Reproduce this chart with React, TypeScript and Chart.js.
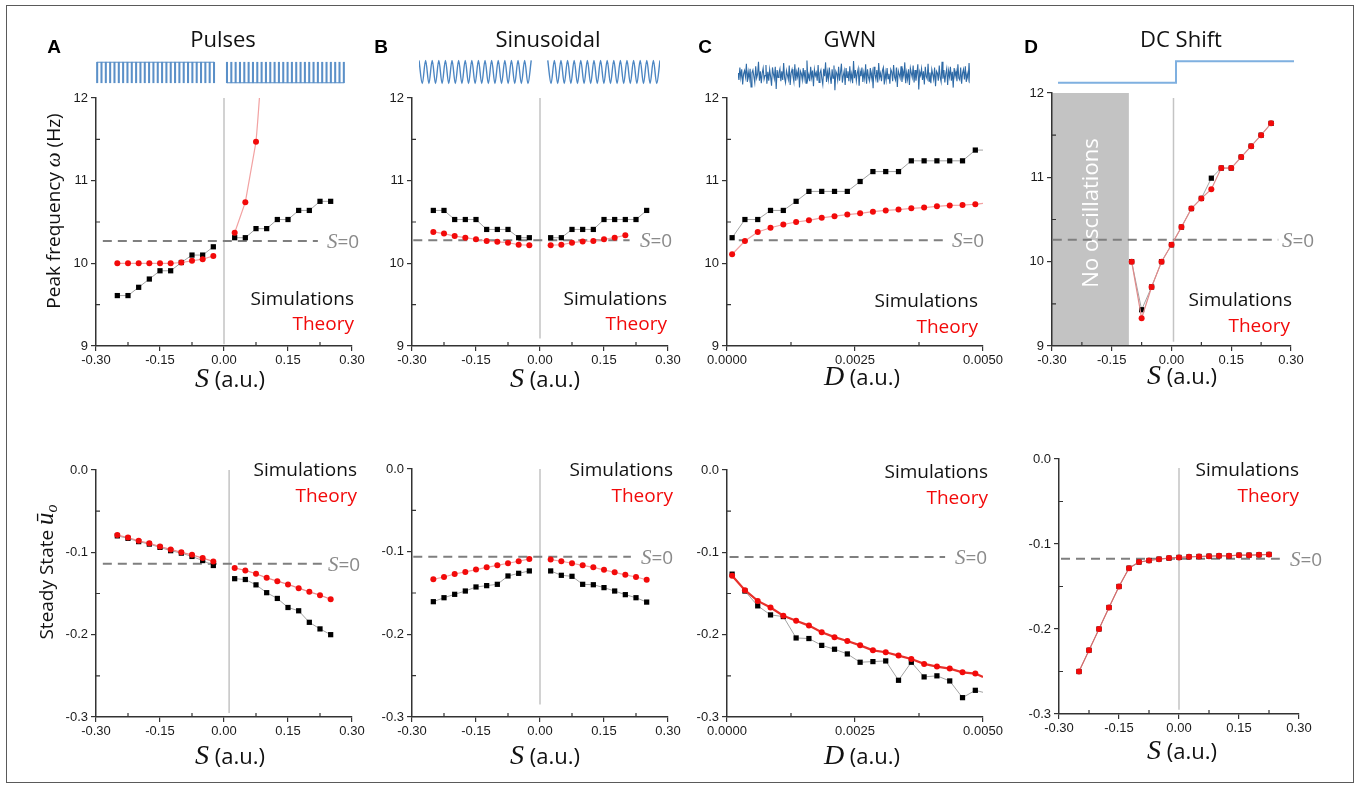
import React, { useEffect, useRef } from 'react';
import { Chart, registerables } from 'chart.js';

Chart.register(...registerables);

// ================= DATA =================
// x positions
const sNeg = [-0.25, -0.225, -0.2, -0.175, -0.15, -0.125, -0.1, -0.075, -0.05, -0.025];
const sPos = [0.025, 0.05, 0.075, 0.1, 0.125, 0.15, 0.175, 0.2, 0.225, 0.25];
const sPosShort = [0.025, 0.05, 0.075, 0.1, 0.125, 0.15, 0.175, 0.2];
const dLevels = [0.0001, 0.00035, 0.0006, 0.00085, 0.0011, 0.00135, 0.0016, 0.00185, 0.0021, 0.00235, 0.0026, 0.00285, 0.0031, 0.00335, 0.0036, 0.00385, 0.0041, 0.00435, 0.0046, 0.00485];
const dTailX = [0.00485, 0.005];
const sDcTop = [-0.1, -0.075, -0.05, -0.025, 0, 0.025, 0.05, 0.075, 0.1, 0.125, 0.15, 0.175, 0.2, 0.225, 0.25];
const sDcBottom = [-0.25, -0.225, -0.2, -0.175, -0.15, -0.125, -0.1, -0.075, -0.05, -0.025, 0, 0.025, 0.05, 0.075, 0.1, 0.125, 0.15, 0.175, 0.2, 0.225];

// tick values
const sTicks = [-0.3, -0.15, 0, 0.15, 0.3];
const sMinor = [-0.225, -0.075, 0.075, 0.225];
const dTicks = [0, 0.0025, 0.005];
const dMinor = [0.00125, 0.00375];
const freqTicks = [9, 10, 11, 12];
const freqMinor = [9.5, 10.5, 11.5];
const stateTicks = [-0.3, -0.2, -0.1, 0];
const stateMinor = [-0.25, -0.15, -0.05];

// S = 0 reference levels (A, B, C, D) and dashed extents
const s0Freq = [10.27, 10.28, 10.28, 10.26];
const s0State = [-0.114, -0.1063, -0.1058, -0.1174];
const dashSpanFreq = [[-0.284, 0.22], [-0.297, 0.21], [0.00023, 0.00426], [-0.298, 0.268]];
const dashSpanState = [[-0.284, 0.232], [-0.297, 0.213], [0.00005, 0.00426], [-0.295, 0.252]];

// A: Pulses
const pulsesFreqSimNeg = [9.61, 9.61, 9.71, 9.81, 9.91, 9.91, 10.01, 10.1, 10.1, 10.2];
const pulsesFreqSimPos = [10.31, 10.31, 10.42, 10.42, 10.53, 10.53, 10.64, 10.64, 10.75, 10.75];
const pulsesFreqThNeg = [10.0, 10.0, 10.0, 10.0, 10.0, 10.0, 10.01, 10.03, 10.05, 10.09];
const pulsesFreqThPosX = [0.025, 0.05, 0.075];
const pulsesFreqThPos = [10.37, 10.74, 11.47];
const pulsesFreqThTailX = [0.075, 0.079, 0.083, 0.087];
const pulsesFreqThTail = [11.47, 11.72, 12.0, 12.3];
const pulsesStateThNeg = [-0.079, -0.082, -0.086, -0.089, -0.093, -0.0965, -0.1, -0.103, -0.107, -0.111];
const pulsesStateSimNeg = [-0.08, -0.083, -0.087, -0.09, -0.094, -0.098, -0.101, -0.105, -0.11, -0.116];
const pulsesStateThPos = [-0.119, -0.122, -0.126, -0.131, -0.135, -0.139, -0.1435, -0.148, -0.152, -0.157];
const pulsesStateSimPos = [-0.132, -0.133, -0.1395, -0.149, -0.156, -0.167, -0.171, -0.185, -0.193, -0.2];

// B: Sinusoidal
const sineFreqSimNeg = [10.64, 10.64, 10.53, 10.53, 10.53, 10.41, 10.41, 10.41, 10.31, 10.31];
const sineFreqSimPos = [10.31, 10.31, 10.41, 10.41, 10.41, 10.53, 10.53, 10.53, 10.53, 10.64];
const sineFreqThNeg = [10.38, 10.36, 10.33, 10.31, 10.29, 10.27, 10.26, 10.25, 10.225, 10.22];
const sineFreqThPos = [10.22, 10.225, 10.25, 10.265, 10.27, 10.29, 10.31, 10.34];
const sineStateThNeg = [-0.1334, -0.1306, -0.127, -0.1245, -0.1217, -0.119, -0.1165, -0.114, -0.1116, -0.1088];
const sineStateThPos = [-0.1096, -0.1116, -0.114, -0.1165, -0.119, -0.122, -0.125, -0.128, -0.1306, -0.134];
const sineStateSimNeg = [-0.1605, -0.1557, -0.1516, -0.1476, -0.1427, -0.1411, -0.1395, -0.1294, -0.1262, -0.1233];
const sineStateSimPos = [-0.1233, -0.1286, -0.1298, -0.1395, -0.14, -0.1435, -0.1476, -0.152, -0.1557, -0.161];

// C: GWN
const gwnFreqSim = [10.31, 10.53, 10.53, 10.64, 10.64, 10.75, 10.87, 10.87, 10.87, 10.87, 10.99, 11.11, 11.11, 11.11, 11.24, 11.24, 11.24, 11.24, 11.24, 11.37];
const gwnFreqTh = [10.11, 10.27, 10.38, 10.43, 10.47, 10.5, 10.52, 10.55, 10.57, 10.59, 10.605, 10.625, 10.64, 10.65, 10.665, 10.675, 10.69, 10.7, 10.705, 10.715];
const gwnFreqSimTail = [11.37, 11.37];
const gwnFreqThTail = [10.715, 10.725];
const gwnStateSim = [-0.1265, -0.147, -0.165, -0.176, -0.178, -0.204, -0.2047, -0.213, -0.2177, -0.2234, -0.2335, -0.2327, -0.2319, -0.2554, -0.2335, -0.2513, -0.25, -0.2562, -0.2765, -0.2676];
const gwnStateTh = [-0.1285, -0.146, -0.159, -0.167, -0.177, -0.183, -0.189, -0.197, -0.203, -0.2076, -0.213, -0.219, -0.2214, -0.2254, -0.2295, -0.2355, -0.2388, -0.2412, -0.2457, -0.2473];
const gwnStateSimTail = [-0.2676, -0.27];
const gwnStateThTail = [-0.2473, -0.2514];

// D: DC shift
const dcFreqTh = [10.0, 9.33, 9.7, 10.0, 10.2, 10.41, 10.63, 10.75, 10.86, 11.11, 11.11, 11.24, 11.37, 11.5, 11.64];
const dcFreqSim = [10.0, 9.43, 9.7, 10.0, 10.2, 10.41, 10.63, 10.75, 10.99, 11.11, 11.11, 11.24, 11.37, 11.5, 11.64];
const dcStateTh = [-0.25, -0.225, -0.2, -0.1747, -0.15, -0.1284, -0.1213, -0.1194, -0.1178, -0.1166, -0.1158, -0.1151, -0.1147, -0.1143, -0.1139, -0.1139, -0.1131, -0.1131, -0.1127, -0.1123];
const dcStateSim = [-0.25, -0.225, -0.2, -0.1747, -0.15, -0.1284, -0.1213, -0.1194, -0.1178, -0.1166, -0.1158, -0.1151, -0.1147, -0.1143, -0.1139, -0.1139, -0.1131, -0.1131, -0.1127, -0.1123];
const noOscRange = [-0.3, -0.107];

// input signal icons
const pulseTrainNeg = [1, 1, 1, 1, 1, 1, 1, 1, 1, 1, 1, 1, 1, 1, 1, 1, 1, 1, 1, 1, 1, 1, 1, 1, 1, 1, 1, 1];
const pulseTrainPos = [1, 1, 1, 1, 1, 1, 1, 1, 1, 1, 1, 1, 1, 1, 1, 1, 1, 1, 1, 1, 1, 1, 1, 1, 1, 1, 1, 1];
const pulseGap = [null, null];
const sineWaveNeg = [1, -1, 1, -1, 1, -1, 1, -1, 1, -1, 1, -1, 1, -1, 1, -1, 1, -1, 1, -1, 1, -1, 1, -1, 1, -1, 1, -1, 1, -1, 1, -1, 1, -1, 1];
const sineWavePos = [1, -1, 1, -1, 1, -1, 1, -1, 1, -1, 1, -1, 1, -1, 1, -1, 1, -1, 1, -1, 1, -1, 1, -1, 1, -1, 1, -1, 1, -1, 1, -1, 1, -1, 1];
const sineGap = [null, null, null, null];
const gwnTrace = [0.3, -0.8, 1.2, -0.4, 0.9, -1.5, 0.2, 0.7, -0.3, 1.8, -1.1, 0.5, -0.6, 1.0, -1.9, 0.4, 0.8, -0.2, -1.2, 1.4, -0.5, 0.1, 2.1, -0.9, 0.6, -1.3, 0.3, 1.1, -0.7, -0.1, 1.6, -1.4, 0.5, -0.9, 0.9, -0.3, -1.7, 1.2, 0.2, -0.6, 1.3, -2.2, 0.8, -0.4, 0.4, 1.0, -1.0, 0.6, -0.8, 1.9, -0.5, -1.2, 0.7, 0.0, -0.7, 1.5, -1.6, 0.3, 0.9, -0.2, -1.1, 1.7, -0.9, 0.5, -0.3, 1.2, -2.0, 0.6, 0.2, -0.8, 1.1, -0.5, 0.8, -1.3, 2.3, -0.6, 0.1, -1.0, 1.3, -0.4, 0.7, -1.8, 0.9, -0.1, 0.4, -0.9, 1.6, -1.2, 0.3, 0.8, -0.6, -1.5, 1.0, -0.2, 2.0, -1.1, 0.5, -0.7, 1.2, -0.3, -1.4, 0.9, -0.5, 1.5, -2.4, 0.6, 0.2, -0.8, 1.3, -0.9, 0.4, 1.8, -1.2, -0.1, 0.7, -1.6, 1.1, -0.4, 0.6, -1.0, 1.4, -0.7, 0.2, -1.3, 2.2, -0.5, 0.8, -0.9, 0.3, 1.0, -1.7, 0.6, -0.2, 1.2, -1.1, 0.4, -0.6, 1.7, -1.4, 0.9, -0.3, -0.9, 1.1, -0.5, 0.5, -2.1, 1.3, 0.1, -0.7, 0.8, -1.2, 1.9, -0.4, 0.3, -1.0, 0.7, 1.2, -1.5, 0.4, -0.8,
  1.1, -0.6, 0.2, -1.4, 0.9, 0.5, -1.0, 1.6, -0.3, -0.8, 1.2, -1.9, 0.7, 0.1, -0.5, 1.4, -1.1, 0.6, -0.2, 2.0, -1.3, 0.4, -0.7, 0.9, -1.6, 1.1, 0.3, -0.4, 1.5, -1.2, 0.8, -0.9, 0.2, 1.7, -2.3, 0.5, -0.1, 1.0, -0.8, 0.6, -1.5, 1.3, -0.2, -0.6, 1.8, -1.0, 0.4, -1.3, 0.9, 0.1, -0.7, 1.2, -1.8, 0.6, 0.3, -0.9, 1.5, -0.4, -1.1, 2.1, -0.6, 0.8, -1.2, 0.2, 1.0, -1.6, 0.7, -0.3, 1.3, -0.9, 0.5, -2.0, 1.1, -0.2, 0.6, -1.0, 1.7, -0.5, -0.8, 1.2, -1.4, 0.3, 0.9, -0.7, 1.4, -1.1, 0.2, -0.6, 1.9, -1.3];
const dcShiftX = [0, 1, 2];
const dcShiftY = [0, 1, 1];

// ================= STYLE HELPERS =================
const SANS = '"Open Sans", "Noto Sans", sans-serif';
const SERIF = '"Liberation Serif", "DejaVu Serif", serif';
const ARIAL = '"Liberation Sans", Arial, sans-serif';
const RED = '#f20a0a';

const pts = (xs: number[], ys: number[]) => xs.map((x, i) => ({ x, y: ys[i] }));

const theory = (xs: number[], ys: number[], line = '#f2a2a2', w = 1.2) => ({
  data: pts(xs, ys), borderColor: line, borderWidth: w, tension: 0,
  pointStyle: 'circle', pointRadius: 3, pointBackgroundColor: RED, pointBorderWidth: 0,
});
const sim = (xs: number[], ys: number[]) => ({
  data: pts(xs, ys), borderColor: '#a3a3a3', borderWidth: 1, tension: 0,
  pointStyle: 'rect', pointRadius: 3.7, pointBackgroundColor: '#000', pointBorderWidth: 0,
});
const lineOnly = (xs: number[], ys: number[], color: string, w: number) => ({
  data: pts(xs, ys), borderColor: color, borderWidth: w, pointRadius: 0, tension: 0.3,
});
const dash = (span: number[], y: number) => ({
  data: pts(span, [y, y]), borderColor: '#7f7f7f', borderWidth: 2, borderDash: [9, 6], pointRadius: 0,
});
const vline = (x: number, ys: number[]) => ({
  data: pts([x, x], ys), borderColor: '#c4c4c4', borderWidth: 1.5, pointRadius: 0,
});

type Pos = { x: number; y: number };
type PanelSpec = {
  l: number; t: number; r: number; b: number; padTop: number;
  xMin: number; xMax: number; yMin: number; yMax: number;
  xTicks: number[]; yTicks: number[]; xMinor: number[]; yMinor: number[];
  xDec: number; yDec: number;
  datasets: any[];
  letter?: { t: string; x: number; y: number };
  title?: { t: string; x: number; y: number };
  sim: Pos; theory: Pos; s0: Pos;
  xTitle: { sym: string; x: number; y: number };
  yTitle?: { kind: 'freq' | 'state'; x: number; y: number };
  shade?: { range: number[]; label: string; x: number; y: number };
};

type Run = { t: string; f: string; c?: string; dy?: number };
function drawRuns(ctx: CanvasRenderingContext2D, runs: Run[], x: number, y: number, align: 'left' | 'center' | 'right', color: string) {
  ctx.textBaseline = 'alphabetic';
  ctx.textAlign = 'left';
  let w = 0;
  for (const r of runs) { ctx.font = r.f; w += ctx.measureText(r.t).width; }
  let cx = align === 'left' ? x : align === 'center' ? x - w / 2 : x - w;
  for (const r of runs) {
    ctx.font = r.f;
    ctx.fillStyle = r.c || color;
    ctx.fillText(r.t, cx, y + (r.dy || 0));
    cx += ctx.measureText(r.t).width;
  }
}

const YW = 64, PR = 72, XH = 62;

function decor(p: PanelSpec, cl: number, ct: number) {
  return {
    id: 'decor',
    beforeDraw(chart: any) {
      if (!p.shade) return;
      const ctx: CanvasRenderingContext2D = chart.ctx;
      const a = chart.chartArea;
      const xs = chart.scales.x;
      const x0 = Math.max(a.left, xs.getPixelForValue(p.shade.range[0]));
      const x1 = xs.getPixelForValue(p.shade.range[1]);
      ctx.save();
      ctx.fillStyle = '#c3c3c3';
      ctx.fillRect(x0, a.top, x1 - x0, a.bottom - a.top);
      ctx.translate(-cl, -ct);
      ctx.translate(p.shade.x, p.shade.y);
      ctx.rotate(-Math.PI / 2);
      ctx.fillStyle = '#ffffff';
      ctx.font = `22px ${SANS}`;
      ctx.textAlign = 'center';
      ctx.textBaseline = 'alphabetic';
      ctx.fillText(p.shade.label, 0, 7);
      ctx.restore();
    },
    afterDraw(chart: any) {
      const ctx: CanvasRenderingContext2D = chart.ctx;
      const a = chart.chartArea;
      const xs = chart.scales.x, ys = chart.scales.y;
      ctx.save();
      // minor ticks (inward)
      ctx.strokeStyle = '#333';
      ctx.lineWidth = 1.2;
      ctx.beginPath();
      for (const v of p.xMinor) {
        const px = xs.getPixelForValue(v);
        ctx.moveTo(px, a.bottom); ctx.lineTo(px, a.bottom - 4);
      }
      for (const v of p.yMinor) {
        const py = ys.getPixelForValue(v);
        ctx.moveTo(a.left, py); ctx.lineTo(a.left + 4, py);
      }
      ctx.stroke();

      // text in page coordinates
      ctx.translate(-cl, -ct);
      if (p.letter) drawRuns(ctx, [{ t: p.letter.t, f: `bold 19px ${ARIAL}` }], p.letter.x, p.letter.y + 7, 'center', '#000');
      if (p.title) drawRuns(ctx, [{ t: p.title.t, f: `22px ${SANS}` }], p.title.x, p.title.y + 8, 'center', '#111');
      drawRuns(ctx, [{ t: 'Simulations', f: `19px ${SANS}` }], p.sim.x, p.sim.y + 7, 'right', '#111');
      drawRuns(ctx, [{ t: 'Theory', f: `19px ${SANS}` }], p.theory.x, p.theory.y + 7, 'right', RED);
      drawRuns(ctx, [{ t: 'S', f: `italic 21px ${SERIF}` }, { t: '=0', f: `19px ${SANS}` }], p.s0.x, p.s0.y + 7, 'left', '#8a8a8a');
      drawRuns(ctx, [{ t: p.xTitle.sym, f: `italic 28px ${SERIF}` }, { t: ' (a.u.)', f: `22px ${SANS}` }], p.xTitle.x, p.xTitle.y + 7, 'center', '#111');
      if (p.yTitle) {
        ctx.save();
        ctx.translate(p.yTitle.x, p.yTitle.y);
        ctx.rotate(-Math.PI / 2);
        if (p.yTitle.kind === 'freq') {
          drawRuns(ctx, [
            { t: 'Peak frequency ', f: `19px ${SANS}` },
            { t: 'ω', f: `italic 21px ${SERIF}` },
            { t: ' (Hz)', f: `19px ${SANS}` },
          ], 0, 5, 'center', '#111');
        } else {
          drawRuns(ctx, [
            { t: 'Steady State ', f: `19px ${SANS}` },
            { t: 'ū', f: `italic 25px ${SERIF}` },
            { t: 'o', f: `italic 16px ${SERIF}`, dy: 4 },
          ], 0, 5, 'center', '#111');
        }
        ctx.restore();
      }
      ctx.restore();
    },
  };
}

function Panel({ p }: { p: PanelSpec }) {
  const ref = useRef<HTMLCanvasElement>(null);
  const cl = p.l - YW, ct = p.t - p.padTop;
  const w = p.r - p.l + YW + PR, h = p.b - p.t + p.padTop + XH;
  useEffect(() => {
    const axisCommon = {
      grid: { display: true, drawOnChartArea: false, drawTicks: true, tickLength: 5, color: '#333', lineWidth: 1.2 },
      border: { display: true, color: '#333', width: 1.5 },
    };
    const chart = new Chart(ref.current as HTMLCanvasElement, {
      type: 'line',
      data: { datasets: p.datasets },
      options: {
        animation: false,
        responsive: false,
        devicePixelRatio: 1,
        events: [],
        layout: { padding: { left: 0, top: p.padTop, right: PR, bottom: 0 } },
        plugins: { legend: { display: false }, tooltip: { enabled: false } },
        scales: {
          x: {
            type: 'linear', min: p.xMin, max: p.xMax, ...axisCommon,
            afterFit: (s: any) => { s.height = XH; },
            afterBuildTicks: (s: any) => { s.ticks = p.xTicks.map((v) => ({ value: v })); },
            ticks: {
              autoSkip: false, maxRotation: 0, padding: 2, color: '#1a1a1a',
              font: { family: ARIAL, size: 13 },
              callback: (v: any) => Number(v).toFixed(p.xDec),
            },
          },
          y: {
            type: 'linear', min: p.yMin, max: p.yMax, ...axisCommon,
            afterFit: (s: any) => { s.width = YW; },
            afterBuildTicks: (s: any) => { s.ticks = p.yTicks.map((v) => ({ value: v })); },
            ticks: {
              autoSkip: false, padding: 3, color: '#1a1a1a',
              font: { family: ARIAL, size: 13 },
              callback: (v: any) => Number(v).toFixed(p.yDec),
            },
          },
        },
      } as any,
      plugins: [decor(p, cl, ct)],
    });
    return () => chart.destroy();
  }, []);
  return <canvas ref={ref} width={w} height={h} style={{ position: 'absolute', left: cl, top: ct, width: w, height: h }} />;
}

function Icon({ left, top, width, height, config }: { left: number; top: number; width: number; height: number; config: any }) {
  const ref = useRef<HTMLCanvasElement>(null);
  useEffect(() => {
    const chart = new Chart(ref.current as HTMLCanvasElement, config);
    return () => chart.destroy();
  }, []);
  return <canvas ref={ref} width={width} height={height} style={{ position: 'absolute', left, top, width, height }} />;
}

const iconOpts = (xType: string, yMin: number, yMax: number, xMin?: number, xMax?: number, offset = false) => ({
  animation: false, responsive: false, devicePixelRatio: 1, events: [],
  layout: { padding: 0 },
  plugins: { legend: { display: false }, tooltip: { enabled: false } },
  scales: {
    x: { type: xType, display: false, offset, min: xMin, max: xMax },
    y: { type: 'linear', display: false, min: yMin, max: yMax },
  },
});

// pulses icon
const pulseBars = [...pulseTrainNeg, ...pulseGap, ...pulseTrainPos];
const pulseTopBase = [...pulseTrainNeg.map(() => 1), ...pulseGap, ...pulseTrainPos.map(() => null)];
const pulseBottomBase = [...pulseTrainNeg.map(() => null), ...pulseGap, ...pulseTrainPos.map(() => 0)];
const PULSE_BLUE = '#5b90c8';
const pulsesConfig = {
  type: 'bar',
  data: {
    labels: pulseBars.map((_, i) => String(i)),
    datasets: [
      { type: 'line', data: pulseTopBase, borderColor: PULSE_BLUE, borderWidth: 1, pointRadius: 0 },
      { type: 'line', data: pulseBottomBase, borderColor: PULSE_BLUE, borderWidth: 1, pointRadius: 0 },
      { type: 'bar', data: pulseBars, backgroundColor: PULSE_BLUE, barThickness: 1.4 },
    ],
  },
  options: iconOpts('category', -0.06, 1.06, undefined, undefined, true),
};

const sineAll = [...sineWaveNeg, ...sineGap, ...sineWavePos];
const sineConfig = {
  type: 'line',
  data: {
    labels: sineAll.map((_, i) => String(i)),
    datasets: [{ data: sineAll, borderColor: '#4c86c3', borderWidth: 1.4, pointRadius: 0, cubicInterpolationMode: 'monotone', spanGaps: false }],
  },
  options: iconOpts('category', -1.12, 1.12),
};

const gwnConfig = {
  type: 'line',
  data: {
    labels: gwnTrace.map((_, i) => String(i)),
    datasets: [{ data: gwnTrace, borderColor: '#2e6aa6', borderWidth: 1.1, pointRadius: 0, tension: 0 }],
  },
  options: iconOpts('category', -2.7, 2.7),
};

const dcConfig = {
  type: 'line',
  data: { datasets: [{ data: pts(dcShiftX, dcShiftY), borderColor: '#7fb0e0', borderWidth: 2, pointRadius: 0, stepped: true }] },
  options: iconOpts('linear', -0.15, 1.15, 0, 2),
};

// ================= PANELS =================
const freqAxis = { yMin: 9, yMax: 12, yTicks: freqTicks, yMinor: freqMinor, yDec: 0 };
const stateAxis = { yMin: -0.3, yMax: 0, yTicks: stateTicks, yMinor: stateMinor, yDec: 1 };
const sAxis = { xMin: -0.3, xMax: 0.3, xTicks: sTicks, xMinor: sMinor, xDec: 2 };
const dAxis = { xMin: 0, xMax: 0.005, xTicks: dTicks, xMinor: dMinor, xDec: 4 };

const PANELS: PanelSpec[] = [
  {
    l: 96, t: 98, r: 352, b: 346, padTop: 72, ...sAxis, ...freqAxis,
    datasets: [
      theory(sNeg, pulsesFreqThNeg),
      theory(pulsesFreqThPosX, pulsesFreqThPos),
      lineOnly(pulsesFreqThTailX, pulsesFreqThTail, '#f2a2a2', 1.2),
      sim(sNeg, pulsesFreqSimNeg),
      sim(sPos, pulsesFreqSimPos),
      dash(dashSpanFreq[0], s0Freq[0]),
      vline(0, [12, 9.02]),
    ],
    letter: { t: 'A', x: 54, y: 46 }, title: { t: 'Pulses', x: 223, y: 39 },
    sim: { x: 354, y: 298 }, theory: { x: 354, y: 323 }, s0: { x: 327, y: 241 },
    xTitle: { sym: 'S', x: 230, y: 380 }, yTitle: { kind: 'freq', x: 55, y: 211 },
  },
  {
    l: 412, t: 98, r: 668, b: 346, padTop: 72, ...sAxis, ...freqAxis,
    datasets: [
      theory(sNeg, sineFreqThNeg),
      theory(sPosShort, sineFreqThPos),
      sim(sNeg, sineFreqSimNeg),
      sim(sPos, sineFreqSimPos),
      dash(dashSpanFreq[1], s0Freq[1]),
      vline(0, [12, 9.09]),
    ],
    letter: { t: 'B', x: 381, y: 46 }, title: { t: 'Sinusoidal', x: 548, y: 39 },
    sim: { x: 667, y: 298 }, theory: { x: 667, y: 323 }, s0: { x: 640, y: 240 },
    xTitle: { sym: 'S', x: 545, y: 380 },
  },
  {
    l: 727, t: 98, r: 983, b: 346, padTop: 72, ...dAxis, ...freqAxis,
    datasets: [
      theory(dLevels, gwnFreqTh),
      lineOnly(dTailX, gwnFreqThTail, '#f2a2a2', 1.2),
      sim(dLevels, gwnFreqSim),
      lineOnly(dTailX, gwnFreqSimTail, '#a3a3a3', 1),
      dash(dashSpanFreq[2], s0Freq[2]),
    ],
    letter: { t: 'C', x: 705, y: 46 }, title: { t: 'GWN', x: 850, y: 39 },
    sim: { x: 978, y: 300 }, theory: { x: 978, y: 326 }, s0: { x: 952, y: 240 },
    xTitle: { sym: 'D', x: 862, y: 378 },
  },
  {
    l: 1052, t: 93, r: 1291, b: 346, padTop: 72, ...sAxis, ...freqAxis,
    datasets: [
      theory(sDcTop, dcFreqTh, '#e08a8a', 1.2),
      sim(sDcTop, dcFreqSim),
      dash(dashSpanFreq[3], s0Freq[3]),
      vline(0.005, [11.94, 9.05]),
    ],
    letter: { t: 'D', x: 1031, y: 46 }, title: { t: 'DC Shift', x: 1181, y: 39 },
    sim: { x: 1292, y: 299 }, theory: { x: 1290, y: 325 }, s0: { x: 1282, y: 240 },
    xTitle: { sym: 'S', x: 1182, y: 377 },
    shade: { range: noOscRange, label: 'No oscillations', x: 1091, y: 213 },
  },
  {
    l: 96, t: 470, r: 352, b: 717, padTop: 20, ...sAxis, ...stateAxis,
    datasets: [
      theory(sNeg, pulsesStateThNeg, '#ee8a8a', 1.2),
      theory(sPos, pulsesStateThPos, '#ee8a8a', 1.2),
      sim(sNeg, pulsesStateSimNeg),
      sim(sPos, pulsesStateSimPos),
      dash(dashSpanState[0], s0State[0]),
      vline(0.012, [0, -0.295]),
    ],
    sim: { x: 357, y: 469 }, theory: { x: 357, y: 495 }, s0: { x: 328, y: 564 },
    xTitle: { sym: 'S', x: 230, y: 757 }, yTitle: { kind: 'state', x: 48, y: 572 },
  },
  {
    l: 412, t: 469, r: 668, b: 717, padTop: 20, ...sAxis, ...stateAxis,
    datasets: [
      theory(sNeg, sineStateThNeg),
      theory(sPos, sineStateThPos),
      sim(sNeg, sineStateSimNeg),
      sim(sPos, sineStateSimPos),
      dash(dashSpanState[1], s0State[1]),
      vline(0, [0.01, -0.285]),
    ],
    sim: { x: 673, y: 469 }, theory: { x: 673, y: 495 }, s0: { x: 641, y: 557 },
    xTitle: { sym: 'S', x: 545, y: 757 },
  },
  {
    l: 727, t: 470, r: 983, b: 717, padTop: 20, ...dAxis, ...stateAxis,
    datasets: [
      theory(dLevels, gwnStateTh, '#e8302a', 2.2),
      lineOnly(dTailX, gwnStateThTail, '#e8302a', 2.2),
      sim(dLevels, gwnStateSim),
      lineOnly(dTailX, gwnStateSimTail, '#a3a3a3', 1),
      dash(dashSpanState[2], s0State[2]),
    ],
    sim: { x: 988, y: 471 }, theory: { x: 988, y: 497 }, s0: { x: 955, y: 557 },
    xTitle: { sym: 'D', x: 862, y: 757 },
  },
  {
    l: 1059, t: 459, r: 1299, b: 714, padTop: 20, ...sAxis, ...stateAxis,
    datasets: [
      theory(sDcBottom, dcStateTh, '#d86a6a', 1.2),
      sim(sDcBottom, dcStateSim),
      dash(dashSpanState[3], s0State[3]),
      vline(0, [-0.0106, -0.295]),
    ],
    sim: { x: 1299, y: 469 }, theory: { x: 1299, y: 495 }, s0: { x: 1290, y: 559 },
    xTitle: { sym: 'S', x: 1182, y: 752 },
  },
];

export default function App() {
  return (
    <div style={{ position: 'absolute', left: 0, top: 0, width: 1360, height: 785, background: '#fff', overflow: 'hidden' }}>
      <div style={{ position: 'absolute', left: 6, top: 5, width: 1346, height: 776, border: '1.5px solid #5a5a5a' }} />
      {PANELS.map((p, i) => <Panel key={i} p={p} />)}
      <Icon left={95} top={61} width={251} height={23} config={pulsesConfig} />
      <Icon left={419} top={59} width={241} height={26} config={sineConfig} />
      <Icon left={738} top={58} width={232} height={34} config={gwnConfig} />
      <Icon left={1058} top={58} width={236} height={28} config={dcConfig} />
    </div>
  );
}
